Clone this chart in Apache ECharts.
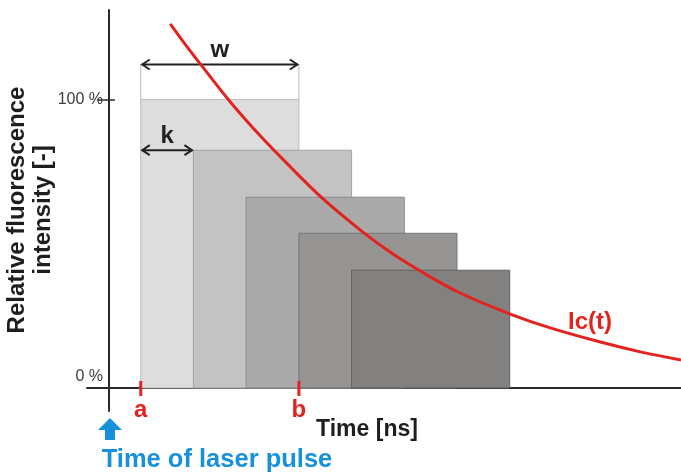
<!DOCTYPE html>
<html><head><meta charset="utf-8">
<script src="https://cdn.jsdelivr.net/npm/echarts@6/dist/echarts.min.js"></script>
<style>html,body{margin:0;padding:0;background:#fff}#c{width:681px;height:473px}</style>
</head><body><div id="c"></div>
<script>
// ---- data ----
const gateStart = [0.6, 1.6, 2.6, 3.6, 4.6];
const gateEnd = [3.6, 4.6, 5.6, 6.6, 7.6];
const gateIntensity = [100, 82.4, 66.1, 53.6, 40.8];
const curveTime = [1.16, 1.44, 1.73, 2.3, 2.87, 3.44, 4.06, 4.76, 5.33, 5.96, 6.66, 7.61, 8.37, 9.32, 10.08, 10.85];
const curveIntensity = [126.2, 119.2, 112.3, 99.1, 87.3, 76.6, 65.5, 54.8, 47.1, 39.9, 32.9, 25.6, 20.8, 15.9, 12.5, 9.7];
const yTickValues = [0, 100];
const yTickLabels = ['0 %', '100 %'];
const dimFrom = [0.6, 0.6];
const dimTo = [3.6, 1.6];
const dimLevel = [112.1, 82.4];
const dimBase = [100, 82.4];
const dimLabels = ['w', 'k'];
const markTimes = [0.6, 3.6];
const markLabels = ['a', 'b'];

// ---- styles ----
const GATE_FILL = ['#dddddd', '#c3c3c3', '#aaaaaa', '#959493', '#82817f'];
const GATE_STROKE = ['#bcbcbc', '#a2a2a2', '#8a8a8a', '#777675', '#646361'];
const RED = '#e2231e';
const BLUE = '#1890dc';
const FONT = '"Liberation Sans", Arial, sans-serif';

const gateData = gateStart.map((s, i) => [s, gateEnd[i], gateIntensity[i]]);
const curveData = curveTime.map((t, i) => [t, curveIntensity[i]]);
const dimData = dimFrom.map((f, i) => [f, dimTo[i], dimLevel[i], dimBase[i]]);
const markData = markTimes.map(t => [t, 0]);

const chart = echarts.init(document.getElementById('c'), null, {renderer: 'canvas'});
chart.setOption({
  animation: false,
  grid: {left: 87, right: 0, top: 10, bottom: 62, containLabel: false},
  xAxis: {
    type: 'value', min: -0.42, max: 10.85,
    axisLine: {show: true, onZero: true, lineStyle: {color: '#2b2b2b', width: 2}},
    axisTick: {show: false}, axisLabel: {show: false}, splitLine: {show: false}
  },
  yAxis: [{
    type: 'value', min: -8, max: 131, position: 'left', offset: -22,
    axisLine: {show: true, onZero: false, lineStyle: {color: '#2b2b2b', width: 2}},
    axisTick: {show: true, length: 12, customValues: [100], lineStyle: {color: '#2b2b2b', width: 1.5}},
    axisLabel: {
      show: true, customValues: yTickValues, margin: 6,
      color: '#3c3c3c', fontSize: 16, fontFamily: FONT, lineHeight: 22,
      formatter: function (v) {
        const i = yTickValues.indexOf(v);
        const t = i >= 0 ? yTickLabels[i] : '';
        return v === 0 ? t + '\n' : t;
      }
    },
    splitLine: {show: false}
  }, {
    type: 'value', min: -8, max: 131, position: 'left', offset: -22,
    axisLine: {show: false, onZero: false},
    axisTick: {show: true, inside: true, length: 6, customValues: [100], lineStyle: {color: '#2b2b2b', width: 1.5}},
    axisLabel: {show: false}, splitLine: {show: false}
  }],
  series: [{
    type: 'custom', name: 'gates', data: gateData, z: 1,
    renderItem: function (params, api) {
      const i = params.dataIndex;
      const p0 = api.coord([api.value(0), api.value(2)]);
      const p1 = api.coord([api.value(1), 0]);
      return {
        type: 'rect',
        shape: {x: p0[0], y: p0[1], width: p1[0] - p0[0], height: p1[1] - p0[1]},
        style: {fill: GATE_FILL[i], stroke: GATE_STROKE[i], lineWidth: 1}
      };
    }
  }, {
    type: 'custom', name: 'dims', data: dimData, z: 3,
    renderItem: function (params, api) {
      const i = params.dataIndex;
      const a = api.coord([api.value(0), api.value(2)]);
      const b = api.coord([api.value(1), api.value(2)]);
      const ba = api.coord([api.value(0), api.value(3)]);
      const bb = api.coord([api.value(1), api.value(3)]);
      const y = a[1];
      const ch = [];
      if (ba[1] - y > 1) {
        ch.push({type: 'line', shape: {x1: ba[0], y1: ba[1], x2: a[0], y2: y}, style: {stroke: '#b8b8b8', lineWidth: 1}});
        ch.push({type: 'line', shape: {x1: bb[0], y1: bb[1], x2: b[0], y2: y}, style: {stroke: '#b8b8b8', lineWidth: 1}});
      }
      ch.push({type: 'line', shape: {x1: a[0] + 1, y1: y, x2: b[0] - 1, y2: y}, style: {stroke: '#222', lineWidth: 2}});
      ch.push({type: 'polyline', shape: {points: [[a[0] + 9, y - 5], [a[0] + 1.5, y], [a[0] + 9, y + 5]]}, style: {stroke: '#222', lineWidth: 2, fill: null}});
      ch.push({type: 'polyline', shape: {points: [[b[0] - 9, y - 5], [b[0] - 1.5, y], [b[0] - 9, y + 5]]}, style: {stroke: '#222', lineWidth: 2, fill: null}});
      ch.push({type: 'text', style: {text: dimLabels[i], x: (a[0] + b[0]) / 2, y: y - 14, align: 'center', verticalAlign: 'middle', font: 'bold 24px ' + FONT, fill: '#222'}});
      return {type: 'group', children: ch};
    }
  }, {
    type: 'custom', name: 'marks', data: markData, z: 4,
    renderItem: function (params, api) {
      const i = params.dataIndex;
      const p = api.coord([api.value(0), api.value(1)]);
      return {type: 'group', children: [
        {type: 'line', shape: {x1: p[0], y1: p[1] - 7, x2: p[0], y2: p[1] + 8}, style: {stroke: RED, lineWidth: 3}},
        {type: 'text', style: {text: markLabels[i], x: p[0], y: p[1] + 22, align: 'center', verticalAlign: 'middle', font: 'bold 24px ' + FONT, fill: RED}}
      ]};
    }
  }, {
    type: 'line', name: 'Ic(t)', data: curveData, smooth: 0.35, showSymbol: false, z: 5,
    lineStyle: {color: RED, width: 3}
  }],
  graphic: [
    {type: 'text', x: 30, y: 210, rotation: Math.PI / 2, z: 10,
      style: {text: 'Relative fluorescence\nintensity [-]', align: 'center', verticalAlign: 'middle', font: 'bold 24px ' + FONT, lineHeight: 26, fill: '#1e1e1e'}},
    {type: 'text', x: 367, y: 430, z: 10,
      style: {text: 'Time [ns]', align: 'center', verticalAlign: 'middle', font: 'bold 23px ' + FONT, fill: '#1e1e1e'}},
    {type: 'text', x: 217, y: 460, z: 10,
      style: {text: 'Time of laser pulse', align: 'center', verticalAlign: 'middle', font: 'bold 25.5px ' + FONT, fill: BLUE}},
    {type: 'text', x: 590, y: 322, z: 10,
      style: {text: 'Ic(t)', align: 'center', verticalAlign: 'middle', font: 'bold 24px ' + FONT, fill: RED}},
    {type: 'polygon', z: 10,
      shape: {points: [[110, 418], [122, 430], [115, 430], [115, 440], [105, 440], [105, 430], [98, 430]]},
      style: {fill: BLUE}}
  ]
});
</script>
</body></html>
